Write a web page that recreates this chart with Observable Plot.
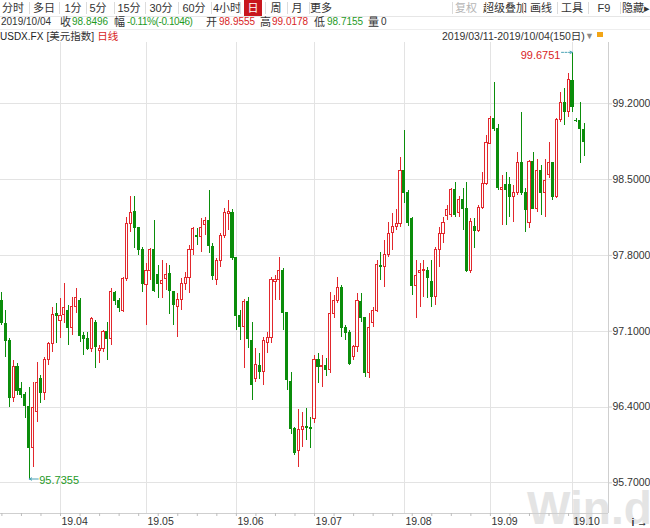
<!DOCTYPE html>
<html><head><meta charset="utf-8">
<script src="https://cdn.jsdelivr.net/npm/d3@7"></script>
<script src="https://cdn.jsdelivr.net/npm/@observablehq/plot@0.6"></script>
<style>
body{margin:0;background:#fff;font-family:"Liberation Sans","Noto Sans CJK SC",sans-serif;font-size:11px;color:#333;}
#wrap{position:relative;width:650px;height:528px;overflow:hidden;background:#fff;}
.a{position:absolute;white-space:nowrap;line-height:12px;height:12px;font-size:11px;}
.sep{position:absolute;width:1px;background:#dcdcdc;}
.hl{position:absolute;height:1px;background:#e6e6e6;left:0;width:650px;}
#chart{position:absolute;left:0;top:42px;}
#wm{position:absolute;left:527px;top:488px;height:40px;line-height:40px;font:bold 46px/40px "Liberation Sans",sans-serif;color:#e4e4e4;pointer-events:none;}
</style></head>
<body><div id="wrap"><div id="wm">Win.d</div><div id="chart"></div></div>
<script>
// ---------- data (USDX.FX daily, 2019/03/11 - 2019/10/04, 150 days) ----------
const startDate = "2019-03-11";
const open = [97.38,97.17,97.01,96.48,96.77,96.57,96.51,96.40,96.02,96.35,
96.66,96.53,96.83,96.98,97.26,97.19,97.25,97.29,97.13,97.32,
97.38,97.06,97.03,96.94,97.18,96.92,96.94,97.09,97.03,97.45,
97.38,97.29,97.58,98.09,98.20,98.05,97.85,97.53,97.66,97.85,
97.62,97.54,97.58,97.63,97.46,97.32,97.39,97.54,97.59,97.85,
97.98,97.97,98.08,98.12,97.88,97.57,97.75,97.98,98.18,98.19,
97.78,97.24,97.14,97.37,97.01,96.66,96.78,96.72,96.99,97.04,
97.55,97.57,97.66,97.27,96.63,96.20,95.99,96.19,96.22,96.21,
96.29,96.83,96.77,96.78,96.74,97.26,97.38,97.50,97.13,97.08,
96.86,96.95,97.37,97.22,96.71,97.18,97.29,97.70,97.69,97.80,
98.01,98.06,98.09,98.58,98.38,98.14,97.52,97.64,97.655,97.66,
97.55,97.42,97.85,98.00,98.16,98.17,98.40,98.19,98.31,98.23,
97.66,98.06,98.03,98.24,98.46,98.83,99.06,98.97,98.40,98.45,
98.45,98.34,98.38,98.65,98.38,98.10,98.66,98.23,98.58,98.38,
98.54,98.65,98.34,99.05,99.21,99.12,99.41,99.045,99.04,98.9555];
const high = [97.46,97.29,97.03,96.83,96.80,96.63,96.53,96.58,96.63,96.81,
96.69,96.86,97.00,97.32,97.36,97.40,97.54,97.34,97.41,97.49,
97.40,97.09,97.09,97.23,97.20,96.97,97.11,97.18,97.49,97.47,
97.40,97.60,98.15,98.34,98.34,98.06,97.87,97.73,97.86,98.12,
97.71,97.75,97.73,97.71,97.47,97.45,97.59,97.64,97.89,98.06,
98.05,98.14,98.15,98.40,97.91,97.77,98.00,98.23,98.31,98.22,
97.78,97.29,97.39,97.41,97.18,96.94,96.89,97.04,97.09,97.60,
97.61,97.78,97.68,97.27,96.72,96.21,96.38,96.35,96.39,96.30,
96.88,96.89,96.88,96.85,97.46,97.43,97.60,97.52,97.15,97.11,
96.97,97.45,97.45,97.22,97.26,97.32,97.75,97.83,97.94,98.10,
98.19,98.22,98.70,98.95,98.40,98.15,97.75,97.73,97.75,97.69,
97.75,97.87,98.06,98.15,98.26,98.42,98.47,98.34,98.42,98.47,
98.14,98.14,98.26,98.57,98.91,99.08,99.40,99.01,98.54,98.57,
98.52,98.45,98.75,99.12,98.42,98.68,98.75,98.69,98.63,98.69,
98.84,98.66,99.06,99.30,99.34,99.48,99.6751,99.06,99.21,99.0178];
const low = [97.15,96.86,96.40,96.44,96.51,96.48,96.29,95.7355,95.84,96.26,
96.43,96.46,96.78,96.90,96.99,97.03,97.17,96.97,97.06,97.26,
97.00,96.88,96.92,96.90,96.76,96.80,96.90,96.83,96.97,97.34,
97.27,97.27,97.56,98.01,97.86,97.80,97.46,97.15,97.57,97.46,
97.40,97.40,97.48,97.25,97.15,97.04,97.29,97.48,97.45,97.80,
97.89,97.83,97.98,97.82,97.57,97.52,97.69,97.96,98.03,97.75,
97.11,97.01,96.76,96.94,96.46,96.63,96.65,96.60,96.89,96.99,
97.38,97.38,97.11,96.55,96.15,95.95,95.84,96.03,96.09,96.02,
96.25,96.62,96.58,96.68,96.71,97.22,97.36,97.04,97.01,96.78,
96.83,96.90,97.18,96.67,96.66,97.13,97.27,97.57,97.50,97.78,
97.85,98.03,98.06,98.28,98.07,97.43,97.22,97.32,97.41,97.40,
97.32,97.34,97.69,97.91,98.12,98.15,98.15,98.15,98.03,97.64,
97.63,97.86,98.01,98.22,98.45,98.82,98.94,98.40,98.08,98.08,
98.15,98.10,98.35,98.35,98.01,98.05,98.22,98.20,98.17,98.15,
98.51,98.31,98.33,99.03,99.00,99.07,99.12,99.03,98.65,98.7155];
const close = [97.18,97.01,96.48,96.77,96.55,96.51,96.41,96.02,96.39,96.62,
96.53,96.83,96.98,97.25,97.24,97.24,97.31,97.13,97.32,97.41,
97.06,97.03,96.94,97.21,96.95,96.94,97.09,97.03,97.46,97.38,
97.31,97.58,98.09,98.19,98.05,97.85,97.54,97.66,97.85,97.47,
97.54,97.56,97.62,97.47,97.34,97.39,97.54,97.59,97.85,98.04,
97.97,98.05,98.12,97.89,97.61,97.75,97.98,98.19,98.20,97.78,
97.24,97.14,97.37,97.03,96.60,96.79,96.72,97.01,97.04,97.57,
97.57,97.66,97.27,96.65,96.20,95.98,96.19,96.22,96.21,96.20,
96.83,96.77,96.78,96.74,97.26,97.38,97.50,97.13,97.08,96.80,
96.95,97.38,97.22,96.71,97.13,97.29,97.71,97.69,97.80,98.00,
98.06,98.09,98.58,98.38,98.10,97.52,97.61,97.66,97.665,97.59,
97.42,97.85,98.00,98.10,98.22,98.40,98.17,98.31,98.23,97.66,
98.11,98.03,98.24,98.46,98.84,99.06,98.97,98.42,98.42,98.40,
98.34,98.38,98.65,98.38,98.22,98.66,98.23,98.58,98.38,98.49,
98.65,98.34,99.05,99.21,99.12,99.42,99.17,99.04,98.97,98.8496];
const prevClose = 98.9542;
const yTicks = [95.7, 96.4, 97.1, 97.8, 98.5, 99.2];
const monthLabels = ["19.04","19.05","19.06","19.07","19.08","19.09","19.10"];
const tabs = ["分时","多日","1分","5分","15分","30分","60分","4小时","日","周","月","更多"];
const tools = ["复权","超级叠加","画线","工具","F9","隐藏▸"];
const symbol = "USDX.FX", symbolName = "[美元指数]", period = "日线";

// ---------- colours ----------
const RED = "#e2282d", GREEN = "#0b8d0b", TXTRED = "#d81e1e", TXTGREEN = "#1f9a1f";

// ---------- dates (weekdays) ----------
const dates = [];
{ let d = new Date(startDate + "T00:00:00Z");
  while (dates.length < close.length) { const w = d.getUTCDay(); if (w !== 0 && w !== 6) dates.push(new Date(d)); d = new Date(d.getTime() + 864e5); } }
const fmtD = d3.utcFormat("%Y/%m/%d"), fmtYM = d3.utcFormat("%y.%m");
const monthIdx = monthLabels.map(l => dates.findIndex(d => fmtYM(d) === l));
const weekIdx = dates.map((d,i)=>[d,i]).filter(([d]) => d.getUTCDay() === 1).map(([,i]) => i);

const rows = close.map((c,i) => ({i, o: open[i], h: high[i], l: low[i], c, up: c > open[i]}));
const n = rows.length;

// ---------- header ----------
const wrap = document.getElementById("wrap");
const isCJK = t => /[\u3000-\u9fff]/.test(t);
function put(t, x, cy, color, extra) {
  const e = document.createElement("div"); e.className = "a"; e.textContent = t;
  e.style.left = x + "px"; e.style.top = (cy - 6) + "px"; e.style.color = color;
  if (extra) Object.assign(e.style, extra);
  wrap.appendChild(e); return e;
}
function centered(t, cx, cy, color, extra) {
  const e = put(t, 0, cy, color, extra);
  const w = e.getBoundingClientRect().width; e.style.left = (cx - w/2) + "px"; return e;
}
function line(cls, s) { const e = document.createElement("div"); e.className = cls; Object.assign(e.style, s); wrap.appendChild(e); }
// toolbar
const tabX = [13,44,73,98,129,161,194,227,253,276,297,321];
line("hl", {top: "16px"});
tabs.forEach((t,k) => {
  if (t === "日") {
    line("sep", {left: (tabX[k]-9)+"px", top:"0px", width:"18px", height:"16px", background:"#c8161d"});
    centered(t, tabX[k], 8, "#fff");
  } else centered(t, tabX[k], 8, "#333");
  if (k < tabs.length - 1) line("sep", {left: ((tabX[k]+tabX[k+1])/2) + "px", top: "2px", height: "12px"});
});
const toolX = [466,505,541,572,604,636];
tools.forEach((t,k) => {
  centered(t, toolX[k], 8, k === 0 ? "#b5b5b5" : "#333");
  line("sep", {left: (k === 0 ? 452 : (toolX[k-1]+toolX[k])/2) + "px", top: "2px", height: "12px"});
});
// info row
const last = rows[n-1];
const chg = last.c - prevClose;
const info = [
  [fmtD(dates[n-1]), 1, "#333"], ["收", 60, "#333"], [last.c.toFixed(4), 72, TXTGREEN],
  ["幅", 114, "#333"], [(chg/prevClose*100).toFixed(2) + "%(" + chg.toFixed(4) + ")", 127, TXTGREEN],
  ["开", 206, "#333"], [last.o.toFixed(4), 219, TXTRED],
  ["高", 260, "#333"], [last.h.toFixed(4), 272, TXTRED],
  ["低", 314, "#333"], [last.l.toFixed(4), 327, TXTGREEN],
  ["量", 368, "#333"], ["0", 381, "#333"]
];
info.forEach(([t,x,c]) => {
  const st = isCJK(t) ? {fontSize: "11px"} : {fontSize: "10px"};
  if (t.includes("%")) st.letterSpacing = "-0.4px";
  put(t, x, 22, c, st);
});
line("hl", {top: "29px", background:"#eeeeee"});
// symbol row
{
  const e = put("", 0, 36, "#222");
  e.innerHTML = `<span style="font-size:10px">${symbol}</span> <span style="font-size:10.5px;color:#333">${symbolName}</span> <span style="font-size:10.5px;color:${TXTRED}">${period}</span>`;
}
put(fmtD(dates[0]) + "-" + fmtD(dates[n-1]) + "(" + n + "日)", 442, 36, "#333", {fontSize: "10.5px"});
put("▼", 585, 36, "#8a8a8a", {fontSize: "9px"});
line("sep", {left: "597px", top: "32px", width: "6px", height: "5px", background: "#f2a516"});

// ---------- chart ----------
const xDomain = [-0.358, 155.22];
const yDomain = [95.417, 99.766];
const hiIdx = d3.maxIndex(high), loIdx = d3.minIndex(low);
const col = d => d.up ? RED : GREEN;

const chart = Plot.plot({
  width: 650, height: 486,
  marginLeft: 0, marginRight: 42, marginTop: 0, marginBottom: 15,
  x: {type: "linear", domain: xDomain},
  y: {type: "linear", domain: yDomain},
  color: {type: "identity"},
  style: {fontFamily: "Liberation Sans, sans-serif", fontSize: "10.5px", color: "#333", background: "transparent"},
  marks: [
    Plot.ruleY(yTicks, {stroke: "#e3e3e3", strokeWidth: 1, shapeRendering: "crispEdges"}),
    Plot.ruleX(monthIdx, {stroke: "#e3e3e3", strokeWidth: 1, shapeRendering: "crispEdges"}),
    Plot.ruleX([xDomain[1]], {stroke: "#cfcfcf", shapeRendering: "crispEdges"}),
    Plot.ruleY([yDomain[0]], {stroke: "#cfcfcf", shapeRendering: "crispEdges"}),
    Plot.axisY(yTicks, {anchor: "right", tickSize: 3, tickPadding: 1, stroke: "#cfcfcf", fill: "#333", tickFormat: d => d.toFixed(4), fontSize: 10.5}),
    Plot.axisX(weekIdx, {anchor: "bottom", tickSize: 3, tickPadding: 0, stroke: "#bdbdbd", tickFormat: () => ""}),
    Plot.axisX(monthIdx, {anchor: "bottom", tickSize: 0, tickPadding: 4, textAnchor: "start", dx: 1, fill: "#333", fontSize: 10.5,
      tickFormat: d => monthLabels[monthIdx.indexOf(d)]}),
    // wicks
    Plot.ruleX(rows, {x: "i", y1: "l", y2: "h", stroke: col, strokeWidth: 1, shapeRendering: "crispEdges"}),
    // bodies
    Plot.rect(rows, {x1: d => d.i - 0.27, x2: d => d.i + 0.27, y1: "o", y2: "c",
      fill: d => d.up ? "#ffffff" : GREEN, stroke: col, strokeWidth: 1, shapeRendering: "crispEdges"}),
    // annotations
    Plot.arrow([hiIdx], {x1: d => d - 2.8, y1: high[hiIdx], x2: d => d, y2: high[hiIdx],
      stroke: "#4aa3b5", strokeWidth: 1, strokeDasharray: "2,1.5", headLength: 4, headAngle: 50}),
    Plot.text([hiIdx], {x: d => d, y: high[hiIdx], text: () => high[hiIdx].toFixed(4), textAnchor: "end", dx: -12, dy: 3, fill: TXTRED, fontSize: 11}),
    Plot.arrow([loIdx], {x1: d => d + 2.3, y1: low[loIdx], x2: d => d, y2: low[loIdx],
      stroke: "#4aa3b5", strokeWidth: 1, headLength: 4, headAngle: 50}),
    Plot.text([loIdx], {x: d => d, y: low[loIdx], text: () => low[loIdx].toFixed(4), textAnchor: "start", dx: 10, dy: 1, fill: TXTGREEN, fontSize: 11})
  ]
});
document.getElementById("chart").appendChild(chart);
</script></body></html>
